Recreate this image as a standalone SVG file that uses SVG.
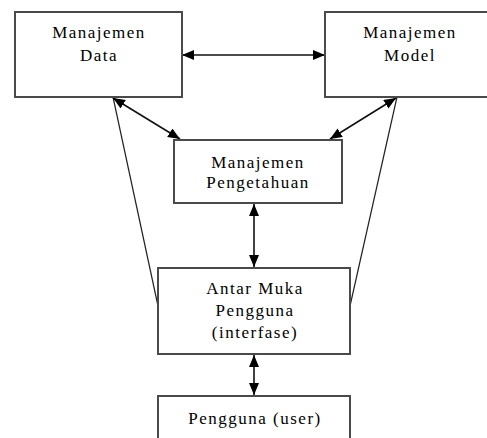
<svg xmlns="http://www.w3.org/2000/svg" width="487" height="438" viewBox="0 0 487 438">
<style>
.box{fill:#fff;stroke:#4a4a4a;stroke-width:2}
.t{font-family:'Liberation Serif','Times New Roman','DejaVu Serif',serif;font-size:17px;letter-spacing:1.5px;text-anchor:middle;fill:#000}
.c{stroke:#111;stroke-width:1.6;fill:none}
.l{stroke:#222;stroke-width:1.2;fill:none}
</style>
<defs>
<marker id="ah" viewBox="0 0 12 10" refX="12" refY="5" markerWidth="12" markerHeight="10" markerUnits="userSpaceOnUse" orient="auto-start-reverse">
<path d="M0,0 L12,5 L0,10 z" fill="#000"/>
</marker>
</defs>
<g id="connectors">
<line class="l" x1="113" y1="97" x2="158" y2="306"/>
<line class="l" x1="397" y1="97" x2="350" y2="306"/>
<line class="c" x1="182" y1="55" x2="325" y2="55" marker-start="url(#ah)" marker-end="url(#ah)"/>
<line class="c" x1="113" y1="98" x2="180" y2="139" marker-start="url(#ah)" marker-end="url(#ah)"/>
<line class="c" x1="396" y1="98" x2="330" y2="139" marker-start="url(#ah)" marker-end="url(#ah)"/>
<line class="c" x1="254" y1="204" x2="254" y2="267" marker-start="url(#ah)" marker-end="url(#ah)"/>
<line class="c" x1="254" y1="355" x2="254" y2="395" marker-start="url(#ah)" marker-end="url(#ah)"/>
</g>
<g id="manajemen-data">
<rect class="box" x="15" y="12" width="167" height="85"/>
<text class="t" x="99" y="38">Manajemen</text>
<text class="t" x="99" y="61">Data</text>
</g>
<g id="manajemen-model">
<rect class="box" x="325" y="12" width="168" height="85"/>
<text class="t" x="410" y="38">Manajemen</text>
<text class="t" x="410" y="61">Model</text>
</g>
<g id="manajemen-pengetahuan">
<rect class="box" x="174" y="140" width="168" height="63"/>
<text class="t" x="258" y="168">Manajemen</text>
<text class="t" x="258" y="188">Pengetahuan</text>
</g>
<g id="antar-muka">
<rect class="box" x="158" y="268" width="192" height="86"/>
<text class="t" x="255" y="294">Antar Muka</text>
<text class="t" x="255" y="316">Pengguna</text>
<text class="t" x="255" y="338">(interfase)</text>
</g>
<g id="pengguna">
<rect class="box" x="158" y="396" width="192" height="50"/>
<text class="t" x="255" y="424">Pengguna (user)</text>
</g>
</svg>
